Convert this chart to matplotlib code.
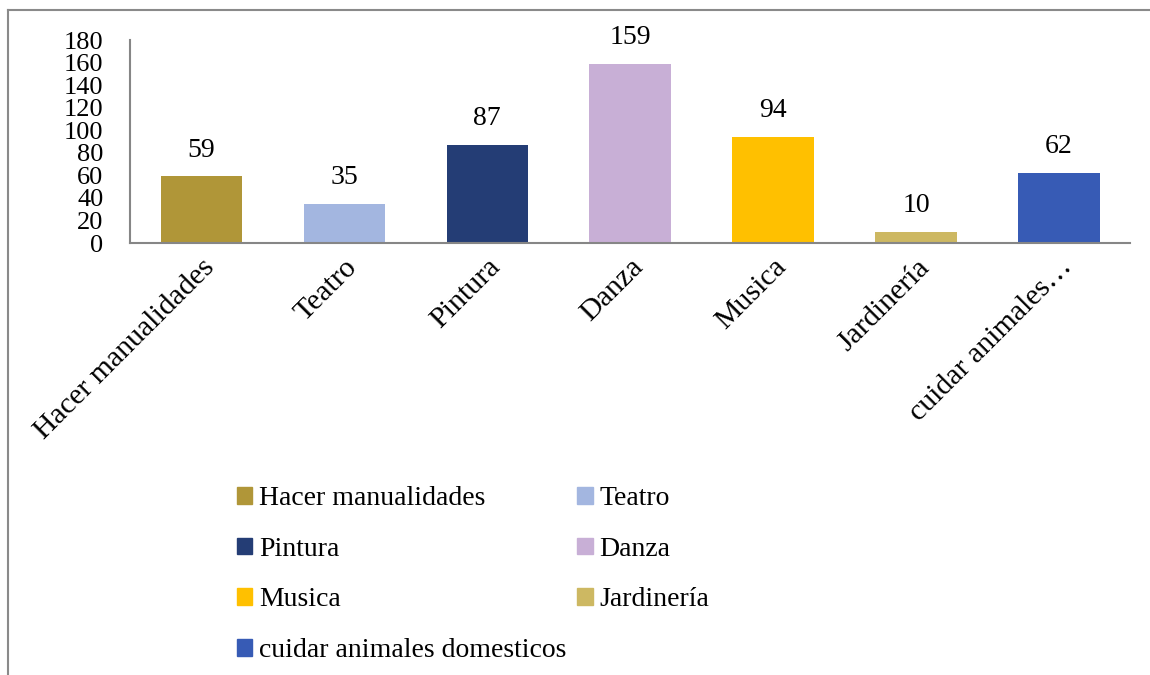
import matplotlib.pyplot as plt
from matplotlib.patches import Rectangle
from matplotlib.lines import Line2D

# actividades preferidas y número de respuestas
categorias = ['Hacer manualidades', 'Teatro', 'Pintura', 'Danza',
              'Musica', 'Jardinería', 'cuidar animales domesticos']
etiquetas_eje = ['Hacer manualidades', 'Teatro', 'Pintura', 'Danza',
                 'Musica', 'Jardinería', 'cuidar animales…']
valores = [59, 35, 87, 159, 94, 10, 62]
colores = ['#B09638', '#A3B6E0', '#243D75', '#C8AFD6',
           '#FFC000', '#CDB862', '#375BB5']

plt.rcParams['font.family'] = ['Liberation Serif', 'DejaVu Serif']
fs = 20

fig = plt.figure(figsize=(11.5, 6.75), dpi=100)
ax = fig.add_axes([0.113, 0.64, 0.87, 0.3007])

x = range(len(valores))
ax.bar(x, valores, width=0.57, color=colores)
for xi, v in zip(x, valores):
    ax.annotate(str(v), (xi, v), xytext=(0, 10), textcoords='offset points',
                ha='center', va='bottom', fontsize=fs)

ax.set_xlim(-0.5, len(valores) - 0.5)
ax.set_ylim(0, 180)
ax.set_yticks(range(0, 181, 20))
ax.set_xticks(list(x))
ax.set_xticklabels(etiquetas_eje, rotation=45, ha='right', va='top',
                   rotation_mode='anchor', fontsize=21.5)
ax.tick_params(axis='y', length=0, pad=19, labelsize=19)
ax.tick_params(axis='x', length=0, pad=8)
for s in ['top', 'right']:
    ax.spines[s].set_visible(False)
for s in ['left', 'bottom']:
    ax.spines[s].set_color('#868686')
    ax.spines[s].set_linewidth(1.5)

# leyenda en dos columnas
h = [Rectangle((0, 0), 1, 1, color=c) for c in colores]
kw = dict(frameon=False, fontsize=fs, handlelength=0.55, handleheight=0.55,
          handletextpad=0.25, labelspacing=0.92, borderpad=0, loc='upper left')
izq = [0, 2, 4, 6]
der = [1, 3, 5]
fig.legend([h[i] for i in izq], [categorias[i] for i in izq],
           bbox_to_anchor=(0.194, 0.300), **kw)
fig.legend([h[i] for i in der], [categorias[i] for i in der],
           bbox_to_anchor=(0.490, 0.300), **kw)

# marco del gráfico
fig.add_artist(Line2D([0.007, 1.0], [0.985, 0.985], color='#8A8A8A', lw=1.5))
fig.add_artist(Line2D([0.007, 0.007], [0.0, 0.985], color='#8A8A8A', lw=1.5))

fig.savefig('out.png', dpi=100)
